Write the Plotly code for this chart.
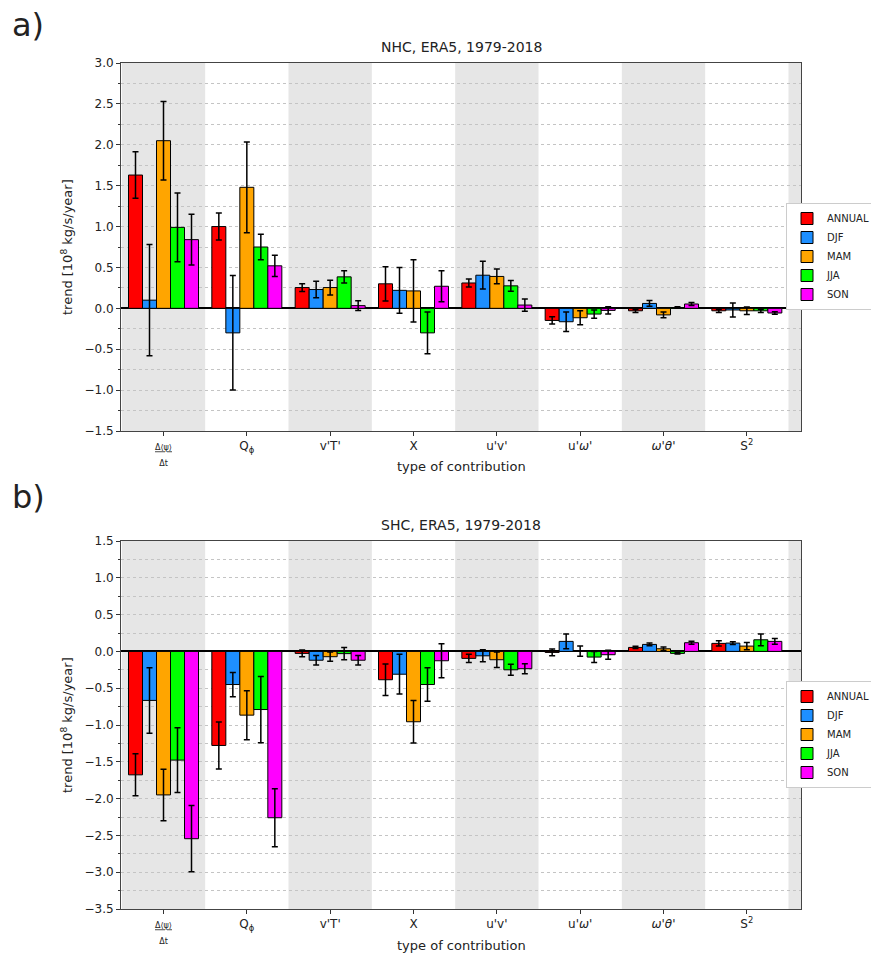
import plotly.graph_objects as go

categories = ["dpsi", "Qphi", "vT", "X", "uv", "uw", "wth", "S2"]
tick_labels = [
    "<span style='font-size:8px;color:#222'><u>Δ⟨ψ⟩</u></span><br><span style='font-size:8px;color:#222'>Δt</span>",
    "Q<sub>ϕ</sub>", "v'T'", "X", "u'v'", "u'<i>ω</i>'", "<i>ω</i>'<i>θ</i>'", "S<sup>2</sup>",
]
seasons = ["ANNUAL", "DJF", "MAM", "JJA", "SON"]
colors = ["#ff0000", "#1e8fff", "#ffa500", "#00ff00", "#ff00ff"]

# NHC (panel a): values and error half-widths per season
nhc_vals = {
    "ANNUAL": [1.63, 1.00, 0.254, 0.30, 0.31, -0.148, -0.03, -0.03],
    "DJF":    [0.10, -0.30, 0.23, 0.22, 0.405, -0.164, 0.06, -0.02],
    "MAM":    [2.05, 1.48, 0.254, 0.213, 0.39, -0.115, -0.08, -0.03],
    "JJA":    [0.99, 0.75, 0.385, -0.30, 0.275, -0.07, 0.01, -0.03],
    "SON":    [0.84, 0.52, 0.033, 0.27, 0.04, -0.025, 0.053, -0.057],
}
nhc_err = {
    "ANNUAL": [0.285, 0.165, 0.047, 0.21, 0.05, 0.045, 0.02, 0.02],
    "DJF":    [0.68, 0.70, 0.10, 0.28, 0.17, 0.12, 0.035, 0.085],
    "MAM":    [0.48, 0.555, 0.09, 0.38, 0.09, 0.085, 0.035, 0.045],
    "JJA":    [0.42, 0.155, 0.075, 0.255, 0.065, 0.05, 0.01, 0.02],
    "SON":    [0.31, 0.13, 0.06, 0.19, 0.075, 0.045, 0.017, 0.015],
}
# SHC (panel b)
shc_vals = {
    "ANNUAL": [-1.677, -1.278, -0.027, -0.385, -0.095, -0.014, 0.054, 0.109],
    "DJF":    [-0.666, -0.45, -0.12, -0.31, -0.06, 0.136, 0.095, 0.113],
    "MAM":    [-1.95, -0.866, -0.072, -0.956, -0.113, 0.005, 0.036, 0.072],
    "JJA":    [-1.477, -0.79, -0.03, -0.45, -0.25, -0.077, -0.027, 0.158],
    "SON":    [-2.545, -2.26, -0.12, -0.127, -0.235, -0.045, 0.118, 0.136],
}
shc_err = {
    "ANNUAL": [0.285, 0.32, 0.045, 0.215, 0.055, 0.045, 0.015, 0.035],
    "DJF":    [0.445, 0.165, 0.065, 0.27, 0.082, 0.10, 0.018, 0.018],
    "MAM":    [0.35, 0.333, 0.063, 0.29, 0.105, 0.07, 0.025, 0.05],
    "JJA":    [0.44, 0.45, 0.083, 0.227, 0.075, 0.075, 0.01, 0.08],
    "SON":    [0.45, 0.395, 0.065, 0.23, 0.068, 0.06, 0.02, 0.04],
}

xs = list(range(len(categories)))
font = "DejaVu Sans"

fig = go.Figure()
for s, c in zip(seasons, colors):
    fig.add_trace(go.Bar(
        x=xs, y=nhc_vals[s], name=s, marker=dict(color=c, line=dict(color="black", width=1)),
        error_y=dict(type="data", array=nhc_err[s], color="black", thickness=1.5, width=3),
        xaxis="x", yaxis="y", legend="legend", offsetgroup=s,
    ))
for s, c in zip(seasons, colors):
    fig.add_trace(go.Bar(
        x=xs, y=shc_vals[s], name=s, marker=dict(color=c, line=dict(color="black", width=1)),
        error_y=dict(type="data", array=shc_err[s], color="black", thickness=1.5, width=3),
        xaxis="x2", yaxis="y2", legend="legend2", offsetgroup=s,
    ))

# alternating gray background bands
shapes = []
for ax_x, ax_y in (("x", "y"), ("x2", "y2")):
    for i in list(range(0, len(categories), 2)) + [len(categories)]:
        shapes.append(dict(type="rect", xref=ax_x, yref=ax_y + " domain",
                           x0=i - 0.5, x1=i + 0.5, y0=0, y1=1,
                           fillcolor="#e6e6e6", line=dict(width=0), layer="below"))

xrange = [-0.51, 7.65]
xaxis_common = dict(range=xrange, tickvals=xs, ticktext=tick_labels, ticks="outside",
                    ticklen=4, tickcolor="#333", showline=True, linecolor="#444", mirror=True,
                    showgrid=False, zeroline=False, tickfont=dict(size=12, color="#222"),
                    automargin=False)
yaxis_common = dict(tickformat=".1f", dtick=0.5, ticks="outside", ticklen=4, tickcolor="#333",
                    showline=True, linecolor="#444", mirror=True, automargin=False,
                    showgrid=True, gridcolor="#c4c4c4", griddash="dot", gridwidth=1,
                    minor=dict(dtick=0.25, showgrid=True, gridcolor="#c4c4c4", griddash="dot",
                               ticks="outside", ticklen=2, tickcolor="#333"),
                    zeroline=True, zerolinecolor="black", zerolinewidth=1.5,
                    tickfont=dict(size=12, color="#222"))

top_bottom = (909 - 431) / 846
bot_top = (909 - 541) / 846

annotations = []
for ax, title in (("", "NHC, ERA5, 1979-2018"), ("2", "SHC, ERA5, 1979-2018")):
    annotations += [
        dict(text=title, xref=f"x{ax} domain", yref=f"y{ax} domain", x=0.5, y=1,
             yanchor="bottom", yshift=6, showarrow=False, font=dict(size=14, color="#222")),
        dict(text="type of contribution", xref=f"x{ax} domain", yref=f"y{ax} domain", x=0.5, y=0,
             yanchor="middle", yshift=-36, showarrow=False, font=dict(size=13, color="#222")),
        dict(text="trend [10<sup>8</sup> kg/s/year]", xref=f"x{ax} domain", yref=f"y{ax} domain",
             x=0, y=0.5, xanchor="center", yanchor="middle", xshift=-54, textangle=-90,
             showarrow=False, font=dict(size=13, color="#222")),
    ]
annotations += [
    dict(text="a)", xref="paper", yref="paper", x=(10 - 121) / 680, y=(909 - 25) / 846,
         xanchor="left", yanchor="middle", showarrow=False, font=dict(size=32, color="#222")),
    dict(text="b)", xref="paper", yref="paper", x=(10 - 121) / 680, y=(909 - 497) / 846,
         xanchor="left", yanchor="middle", showarrow=False, font=dict(size=32, color="#222")),
]

legend_common = dict(x=(786 - 121) / 680, xanchor="left", yanchor="top", bgcolor="white",
                     bordercolor="#cccccc", borderwidth=1, itemwidth=30,
                     font=dict(size=10, color="#222"), tracegroupgap=0)

fig.update_layout(
    width=871, height=959,
    margin=dict(l=121, r=70, t=63, b=50, autoexpand=False),
    paper_bgcolor="white", plot_bgcolor="white",
    font=dict(family=font, color="#222"),
    barmode="group", bargap=0.16, bargroupgap=0,
    xaxis=dict(**xaxis_common, domain=[0, 1], anchor="y"),
    yaxis=dict(**yaxis_common, domain=[top_bottom, 1], range=[-1.5, 3.0], anchor="x"),
    xaxis2=dict(**xaxis_common, domain=[0, 1], anchor="y2"),
    yaxis2=dict(**yaxis_common, domain=[0, bot_top], range=[-3.5, 1.5], anchor="x2"),
    shapes=shapes,
    legend=dict(**legend_common, y=(909 - 203) / 846),
    legend2=dict(**legend_common, y=(909 - 681) / 846),
    annotations=annotations,
)

fig.write_html("out.html")
